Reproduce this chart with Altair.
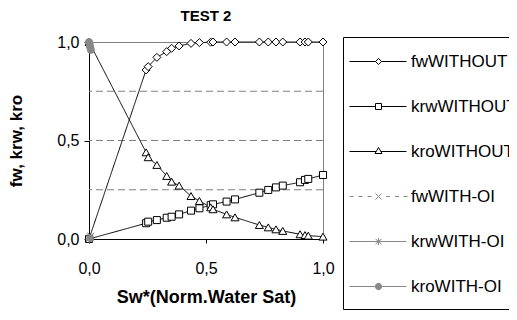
import altair as alt
import pandas as pd
import math

FONT = "Liberation Sans"
GRAY = "#888888"

series_names = ["fwWITHOUT", "krwWITHOUT", "kroWITHOUT", "fwWITH-OI", "krwWITH-OI", "kroWITH-OI"]

sw = [0.0, 0.244, 0.253, 0.29, 0.332, 0.353, 0.385, 0.436, 0.472, 0.52, 0.53,
      0.588, 0.624, 0.728, 0.766, 0.799, 0.828, 0.902, 0.923, 0.937, 1.0]
fw_without = [0.0, 0.858, 0.875, 0.922, 0.951, 0.968, 0.98, 0.993, 0.997, 0.999, 1.0,
              1.0, 1.0, 1.0, 1.0, 1.0, 1.0, 1.0, 1.0, 1.0, 1.0]
krw_without = [0.0, 0.080, 0.088, 0.096, 0.108, 0.113, 0.125, 0.144, 0.156, 0.172, 0.176,
               0.19, 0.201, 0.235, 0.249, 0.262, 0.271, 0.288, 0.300, 0.305, 0.325]
kro_without = [1.0, 0.44, 0.415, 0.376, 0.32, 0.291, 0.271, 0.218, 0.193, 0.161, 0.151,
               0.125, 0.11, 0.071, 0.059, 0.049, 0.041, 0.024, 0.02, 0.017, 0.012]

sw_oi = [0.0, 0.002, 0.004, 0.006, 0.008]
fw_oi = [0.0, 0.004, 0.008, 0.012, 0.016]
krw_oi = [0.0, 0.001, 0.002, 0.003, 0.004]
kro_oi = [1.0, 0.99, 0.98, 0.97, 0.96]

y_ticks = [0.0, 0.5, 1.0]
x_ticks = [0.0, 0.5, 1.0]
grid_values = [0.25, 0.5, 0.75]

rows = []
for name, xs, ys in [
    ("fwWITHOUT", sw, fw_without),
    ("krwWITHOUT", sw, krw_without),
    ("kroWITHOUT", sw, kro_without),
    ("fwWITH-OI", sw_oi, fw_oi),
    ("krwWITH-OI", sw_oi, krw_oi),
    ("kroWITH-OI", sw_oi, kro_oi),
]:
    for xv, yv in zip(xs, ys):
        rows.append({"series": name, "x": xv, "y": yv})
df = pd.DataFrame(rows)
grid_df = pd.DataFrame({"g": grid_values})

# ---- styles ----
line_colors = ["black", "black", "black", GRAY, GRAY, GRAY]
dashes = [[1, 0], [1, 0], [1, 0], [2, 2], [1, 0], [1, 0]]
X_PATH = "M-1,-1L1,1M-1,1L1,-1"
AST_PATH = "M0,-1V1M-1,0H1M-0.8,-0.6L0.8,0.6M-0.8,0.6L0.8,-0.6"
marker_shapes = ["diamond", "square", "triangle-up", X_PATH, AST_PATH, "circle"]
marker_sizes = [64, 49, 64, 42, 49, 49]
marker_fills = ["white", "white", "white", "transparent", "transparent", GRAY]

# legend symbol paths (1 unit = 10 px, symbolSize 400)
L0, L1, CX = -1.8, 3.9, 1.1


def seg(a, b):
    return f"M{a:.3f},0H{b:.3f}"


h = 0.3
leg_diamond = seg(L0, CX - h) + seg(CX + h, L1) + \
    f"M{CX-h:.3f},0L{CX:.3f},{-h}L{CX+h:.3f},0L{CX:.3f},{h}Z"
leg_square = seg(L0, CX - h) + seg(CX + h, L1) + \
    f"M{CX-h:.3f},{-h}H{CX+h:.3f}V{h}H{CX-h:.3f}Z"
leg_tri = seg(L0, CX - 0.23) + seg(CX + 0.23, L1) + \
    f"M{CX-0.35:.3f},0.2L{CX:.3f},-0.4L{CX+0.35:.3f},0.2Z"
dash_parts = "".join(seg(a, a + 0.4) for a in [-1.8, -0.9, 0.0, 1.85, 2.75, 3.6])
leg_x = dash_parts + f"M{CX-h:.3f},{-h}L{CX+h:.3f},{h}M{CX-h:.3f},{h}L{CX+h:.3f},{-h}"
leg_ast = seg(L0, L1) + f"M{CX:.3f},-0.35V0.35M{CX-0.3:.3f},-0.25L{CX+0.3:.3f},0.25M{CX-0.3:.3f},0.25L{CX+0.3:.3f},-0.25"
circ = "M" + "L".join(
    f"{CX + 0.32*math.cos(2*math.pi*k/16):.3f},{0.32*math.sin(2*math.pi*k/16):.3f}" for k in range(16)) + "Z"
leg_circle = seg(L0, CX - 0.32) + seg(CX + 0.32, L1) + circ
legend_paths = [leg_diamond, leg_square, leg_tri, leg_x, leg_ast, leg_circle]
legend_fills = ["white", "white", "white", "white", "white", GRAY]

label_expr = "replace(format(datum.value, '.1f'), '.', ',')"

x_enc = alt.X("x:Q", scale=alt.Scale(domain=[0, 1], nice=False, zero=False),
              axis=alt.Axis(values=x_ticks, labelExpr=label_expr, title="Sw*(Norm.Water Sat)",
                            tickSize=4, labelPadding=17, titlePadding=12, labelFlush=False,
                            labelFontSize=16, titleFontSize=18, titleFontWeight="bold"))
y_enc = alt.Y("y:Q", scale=alt.Scale(domain=[0, 1], nice=False, zero=False),
              axis=alt.Axis(values=y_ticks, labelExpr=label_expr, title="fw, krw, kro",
                            tickSize=5, labelPadding=5, titlePadding=31, labelFlush=False,
                            labelFontSize=16, titleFontSize=17, titleFontWeight="bold"))

grid = alt.Chart(grid_df).mark_rule(color="#808080", strokeDash=[7, 4], strokeWidth=1).encode(
    y=alt.Y("g:Q", scale=alt.Scale(domain=[0, 1], nice=False)))

line_layers = []
for name, col, dsh in zip(series_names, line_colors, dashes):
    line_layers.append(
        alt.Chart(df).transform_filter(alt.datum.series == name).mark_line(
            color=col, strokeDash=dsh, strokeWidth=1
        ).encode(x=x_enc, y=y_enc)
    )

point_layers = []
for name, shp, sz, fl, col in zip(series_names, marker_shapes, marker_sizes, marker_fills, line_colors):
    point_layers.append(
        alt.Chart(df).transform_filter(alt.datum.series == name).mark_point(
            shape=shp, size=sz, fill=fl, stroke=col, strokeWidth=1, opacity=1, filled=False
        ).encode(x="x:Q", y="y:Q")
    )


def legend_def():
    return alt.Legend(
        title=None, orient="none", legendX=254, legendY=-5,
        strokeColor="black", fillColor="white", padding=14, rowPadding=26,
        symbolSize=400, symbolStrokeWidth=1, symbolOpacity=1, labelOffset=33,
        labelFont=FONT, labelFontSize=17, labelColor="black", labelLimit=300)


legend_layer = alt.Chart(df).mark_point(opacity=0, filled=False).encode(
    x="x:Q", y="y:Q",
    color=alt.Color("series:N", scale=alt.Scale(domain=series_names, range=line_colors), legend=legend_def()),
    shape=alt.Shape("series:N", scale=alt.Scale(domain=series_names, range=legend_paths), legend=legend_def()),
    fill=alt.Fill("series:N", scale=alt.Scale(domain=series_names, range=legend_fills), legend=legend_def()),
)

chart = alt.layer(grid, *line_layers, *point_layers, legend_layer).properties(
    width=234, height=197,
    autosize=alt.AutoSizeParams(type="none"),
    padding={"left": 81, "top": 34, "right": 186, "bottom": 80},
    title=alt.TitleParams("TEST 2", font=FONT, fontSize=15, fontWeight="bold", color="black",
                          offset=10, anchor="middle"),
).configure(font=FONT).configure_view(stroke="#808080", strokeWidth=1).configure_axis(
    labelFont=FONT, titleFont=FONT, labelColor="black", titleColor="black",
    domainColor="black", tickColor="black", grid=False,
)

chart.save("out.html", embed_options={"renderer": "svg", "actions": False})
